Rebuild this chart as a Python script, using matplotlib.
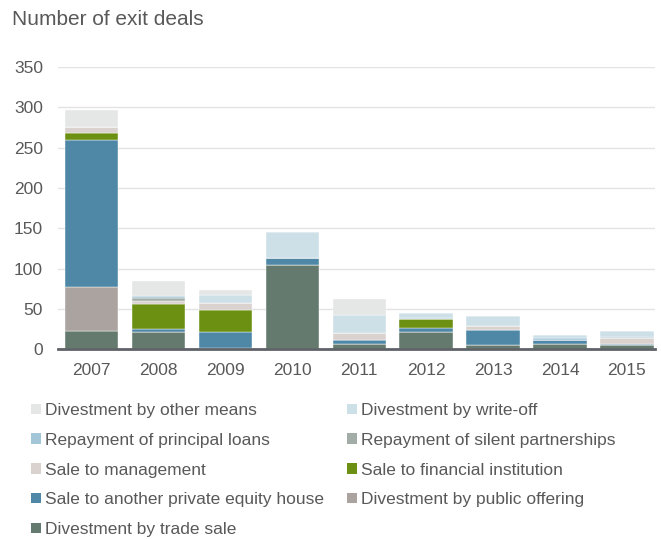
import matplotlib.pyplot as plt
from matplotlib.patches import Patch
import numpy as np

plt.rcParams['font.family'] = ['Liberation Sans', 'DejaVu Sans']

years = ['2007', '2008', '2009', '2010', '2011', '2012', '2013', '2014', '2015']

# stacked bottom -> top
trade_sale     = [23, 21, 0, 105, 7, 21, 6, 7, 5]
public_offer   = [54, 0, 2, 0, 0, 0, 0, 0, 0]
private_equity = [182, 4, 20, 8, 5, 5, 18, 5, 2]
fin_inst       = [9, 31, 27, 0, 0, 12, 0, 0, 0]
management     = [7, 4, 8, 0, 8, 0, 5, 0, 7]
silent_part    = [0, 4, 0, 0, 0, 0, 0, 0, 0]
principal_loan = [0, 2, 0, 0, 0, 1, 0, 2, 1]
write_off      = [0, 0, 10, 33, 22, 6, 12, 4, 8]
other_means    = [22, 19, 7, 0, 21, 0, 0, 0, 0]

series = [
    ('Divestment by trade sale', trade_sale, '#647a6e'),
    ('Divestment by public offering', public_offer, '#aaa39f'),
    ('Sale to another private equity house', private_equity, '#4e88a6'),
    ('Sale to financial institution', fin_inst, '#6c9012'),
    ('Sale to management', management, '#d9d2cf'),
    ('Repayment of silent partnerships', silent_part, '#a3ada7'),
    ('Repayment of principal loans', principal_loan, '#a3c6d9'),
    ('Divestment by write-off', write_off, '#cde0e8'),
    ('Divestment by other means', other_means, '#e4e7e5'),
]

txt = '#595959'
fig = plt.figure(figsize=(6.61, 5.4), dpi=100)
ax = fig.add_axes([0.088, 0.353, 0.903, 0.523])

x = np.arange(len(years))
bottom = np.zeros(len(years))
for name, vals, col in series:
    ax.bar(x, vals, 0.8, bottom=bottom, color=col, edgecolor='white', linewidth=0.3, zorder=3)
    bottom += np.array(vals)

ax.set_ylim(0, 350)
ax.set_xlim(-0.5, 8.42)
ax.set_yticks(range(0, 351, 50))
ax.set_xticks(x)
ax.set_xticklabels(years)
ax.grid(axis='y', color='#e3e3e3', linewidth=1, zorder=0)
for s in ['top', 'right', 'left']:
    ax.spines[s].set_visible(False)
ax.spines['bottom'].set_color('#5f6368')
ax.spines['bottom'].set_linewidth(2)
ax.spines['bottom'].set_zorder(4)
ax.tick_params(axis='both', length=0, labelsize=12.5, colors=txt)
ax.tick_params(axis='y', pad=11)
ax.tick_params(axis='x', pad=10)

fig.text(0.018, 0.963, 'Number of exit deals', fontsize=15, color=txt, va='center')

# legend drawn as two separate columns
lookup = {n: c for n, v, c in series}
col_left = ['Divestment by other means', 'Repayment of principal loans', 'Sale to management',
            'Sale to another private equity house', 'Divestment by trade sale']
col_right = ['Divestment by write-off', 'Repayment of silent partnerships',
             'Sale to financial institution', 'Divestment by public offering']

for names, xpos in [(col_left, 31), (col_right, 347)]:
    handles = [Patch(facecolor=lookup[n], edgecolor='none', label=n) for n in names]
    leg = fig.legend(handles=handles, loc='upper left', bbox_to_anchor=(xpos / 661, 1 - 403 / 540),
                     frameon=False, fontsize=12.5, handlelength=0.55, handleheight=0.55,
                     handletextpad=0.25, labelspacing=0.85, borderpad=0, borderaxespad=0)
    for t in leg.get_texts():
        t.set_color(txt)

fig.savefig('out.png', dpi=100)
